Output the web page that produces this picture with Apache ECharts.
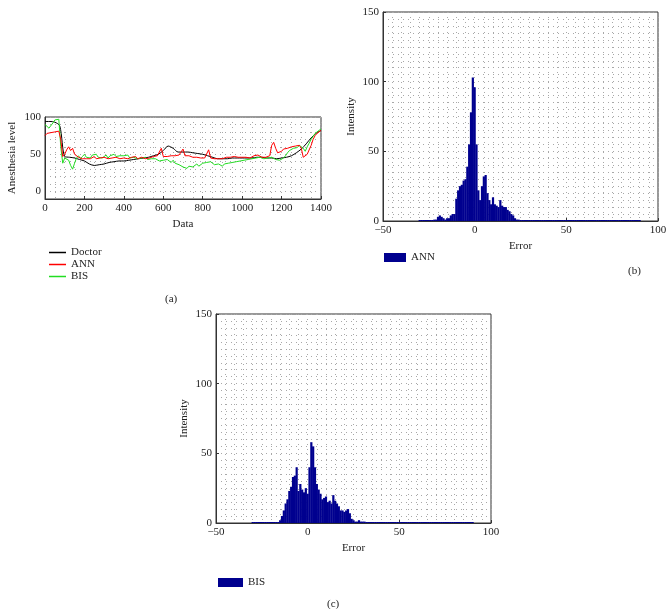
<!DOCTYPE html>
<html>
<head>
<meta charset="utf-8">
<script src="https://cdn.jsdelivr.net/npm/echarts@6/dist/echarts.min.js"></script>
<style>
  html, body { margin: 0; padding: 0; background: #fff; }
  #main { width: 671px; height: 609px; }
</style>
</head>
<body>
<div id="main"></div>
<script>
// (a) anesthesia level over the data samples
var levelStep = 10
var annLevel = [
  75, 78, 76, 79, 77, 80, 78, 81, 70, 47,
  50, 56, 60, 55, 58, 50, 48, 46, 45, 44,
  45, 44, 46, 44, 45, 47, 44, 46, 45, 44,
  46, 45, 44, 46, 45, 44, 46, 45, 44, 46,
  45, 46, 44, 45, 46, 45, 47, 44, 45, 46,
  45, 44, 46, 45, 46, 47, 46, 48, 47, 58,
  47, 48, 47, 49, 48, 49, 48, 47, 49, 48,
  57, 48, 47, 48, 47, 46, 47, 46, 47, 45,
  46, 45, 46, 56, 45, 46, 44, 45, 44, 45,
  44, 45, 46, 44, 46, 45, 47, 45, 46, 45,
  46, 45, 46, 47, 45, 46, 48, 47, 49, 47,
  46, 47, 46, 47, 48, 62, 66, 58, 52, 50,
  54, 57, 55, 58, 59, 60, 59, 61, 60, 62,
  58, 46, 44, 50, 48, 62, 70, 75, 78, 80,
  82
]
var bisLevel = [
  90, 88, 85, 84, 92, 96, 95, 97, 60, 38,
  45, 44, 42, 35, 30, 38, 45, 48, 44, 47,
  50, 46, 48, 45, 49, 47, 50, 46, 48, 45,
  47, 49, 45, 48, 46, 50, 47, 45, 48, 46,
  48, 46, 49, 45, 47, 46, 48, 44, 46, 45,
  44, 46, 43, 45, 44, 42, 44, 43, 41, 43,
  42, 40, 43, 41, 39, 42, 38, 40, 36, 34,
  33, 35, 31, 34, 36, 33, 35, 37, 34, 36,
  38, 36, 39, 37, 40, 38, 36, 38, 37, 35,
  34, 37, 35, 38, 36, 39, 38, 40, 39, 41,
  40, 42, 41, 43, 42, 44, 43, 45, 44, 46,
  45, 44, 46, 45, 44, 46, 45, 43, 44, 42,
  43, 45, 48, 52, 55, 57, 58, 60, 59, 62,
  63, 58, 54, 60, 65, 70, 74, 78, 80, 82,
  84
]
var doctorStep = 25
var doctorLevel = [
  94, 94, 93, 88, 47, 46, 45, 43, 41, 37,
  35, 36, 37, 39, 40, 41, 41, 42, 43, 44,
  45, 46, 48, 50, 55, 61, 58, 53, 53, 53,
  52, 51, 50, 48, 46, 44, 44, 44, 45, 45,
  45, 45, 45, 46, 46, 45, 45, 44, 45, 46,
  48, 52, 57, 64, 72, 78, 82
]

// (b)/(c) error histograms, bins of width 1
var histFrom = -30
var histTo = 90
var annBinStart = -22
var annCounts = [
  1, 1, 3, 4, 3, 2, 1, 2, 2, 4, 5, 5, 16, 22, 25, 26, 29, 30, 39, 55, 78, 103,
  96, 55, 22, 15, 25, 32, 33, 20, 15, 12, 17, 12, 11, 10, 15, 11, 10, 10, 8, 7, 5, 4, 2, 1, 1
]
var bisBinStart = -15
var bisCounts = [
  2, 5, 9, 14, 17, 23, 26, 33, 34, 40, 23, 28, 24, 22, 25,
  21, 40, 58, 55, 40, 28, 24, 21, 17, 18, 19, 15, 16, 14, 20, 16, 14, 12, 9, 9, 8, 9, 10, 7, 3, 2, 1, 1, 2, 1, 1, 1
]

var serif = 'Liberation Serif'
var dotStyle = { type: [1, 4], color: '#a8a8a8', width: 1 }

function toPairs(values, step) {
  return values.map(function (v, i) { return [i * step, v] })
}

// fill the whole bin range, zero outside the measured counts
function histPairs(start, counts) {
  var out = []
  for (var b = histFrom; b <= histTo; b++) {
    var k = b - start
    out.push([b, (k >= 0 && k < counts.length) ? counts[k] : 0])
  }
  return out
}

// plain numbers, real minus sign
function num(v) {
  return String(v).replace('-', '\u2212')
}

function histX(gridIndex) {
  return {
    gridIndex: gridIndex, type: 'value', min: -50, max: 100, interval: 50,
    name: 'Error', nameLocation: 'middle', nameGap: 20,
    nameTextStyle: { fontFamily: serif, fontSize: 11, color: '#222' },
    axisLine: { onZero: false, lineStyle: { color: '#333' } },
    axisTick: { inside: true, length: 3, lineStyle: { color: '#333' } },
    axisLabel: { fontFamily: serif, fontSize: 11, color: '#222', margin: 4, formatter: num },
    splitLine: { show: true, lineStyle: dotStyle },
    minorTick: { show: true, splitNumber: 10, length: 0 },
    minorSplitLine: { show: true, lineStyle: dotStyle }
  }
}

function histY(gridIndex) {
  return {
    gridIndex: gridIndex, type: 'value', min: 0, max: 150, interval: 50,
    name: 'Intensity', nameLocation: 'middle', nameGap: 26,
    nameTextStyle: { fontFamily: serif, fontSize: 11, color: '#222' },
    axisLine: { show: true, onZero: false, lineStyle: { color: '#333' } },
    axisTick: { show: true, inside: true, length: 3, lineStyle: { color: '#333' } },
    axisLabel: { fontFamily: serif, fontSize: 11, color: '#222', margin: 4, formatter: num },
    splitLine: { show: true, lineStyle: dotStyle },
    minorTick: { show: true, splitNumber: 10, length: 0 },
    minorSplitLine: { show: true, lineStyle: dotStyle }
  }
}

var chart = echarts.init(document.getElementById('main'), null, { renderer: 'canvas' })

var option = {
  animation: false,
  backgroundColor: '#fff',
  title: [
    { text: '(a)', left: 160, top: 289, textStyle: { fontFamily: serif, fontSize: 11, fontWeight: 'normal', color: '#222' } },
    { text: '(b)', left: 623, top: 261, textStyle: { fontFamily: serif, fontSize: 11, fontWeight: 'normal', color: '#222' } },
    { text: '(c)', left: 322, top: 594, textStyle: { fontFamily: serif, fontSize: 11, fontWeight: 'normal', color: '#222' } }
  ],
  legend: [
    {
      data: ['Doctor', 'ANN', 'BIS'], left: 44, top: 242, orient: 'vertical',
      icon: 'rect', itemWidth: 17, itemHeight: 1.5, itemGap: 1,
      textStyle: { fontFamily: serif, fontSize: 11, color: '#222' }
    },
    {
      data: ['ANN error'], left: 379, top: 247,
      icon: 'rect', itemWidth: 22, itemHeight: 9,
      formatter: function (name) { return name.split(' ')[0] },
      textStyle: { fontFamily: serif, fontSize: 11, color: '#222' }
    },
    {
      data: ['BIS error'], left: 213, top: 572,
      icon: 'rect', itemWidth: 25, itemHeight: 9,
      formatter: function (name) { return name.split(' ')[0] },
      textStyle: { fontFamily: serif, fontSize: 11, color: '#222' }
    }
  ],
  grid: [
    { left: 45, top: 117, width: 276, height: 82, show: true, borderColor: '#333', borderWidth: 1 },
    { left: 383, top: 12, width: 275, height: 209, show: true, borderColor: '#333', borderWidth: 1 },
    { left: 216, top: 314, width: 275, height: 209, show: true, borderColor: '#333', borderWidth: 1 }
  ],
  xAxis: [
    {
      gridIndex: 0, type: 'value', min: 0, max: 1400, interval: 200,
      name: 'Data', nameLocation: 'middle', nameGap: 20,
      nameTextStyle: { fontFamily: serif, fontSize: 11, color: '#222' },
      axisLine: { onZero: false, lineStyle: { color: '#333' } },
      axisTick: { inside: true, length: 3, lineStyle: { color: '#333' } },
      axisLabel: { fontFamily: serif, fontSize: 11, color: '#222', margin: 4, formatter: num },
      splitLine: { show: true, lineStyle: dotStyle },
      minorTick: { show: true, splitNumber: 4, length: 0 },
      minorSplitLine: { show: true, lineStyle: dotStyle }
    },
    histX(1),
    histX(2)
  ],
  yAxis: [
    {
      gridIndex: 0, type: 'value', min: -10, max: 100, interval: 10,
      name: 'Anesthesia level', nameLocation: 'middle', nameGap: 27,
      nameTextStyle: { fontFamily: serif, fontSize: 11, color: '#222' },
      axisLine: { show: true, onZero: false, lineStyle: { color: '#333' } },
      axisTick: { show: false },
      axisLabel: {
        fontFamily: serif, fontSize: 11, color: '#222', margin: 4,
        formatter: function (v) { return v % 50 === 0 ? num(v) : '' }
      },
      splitLine: { show: true, lineStyle: dotStyle }
    },
    histY(1),
    histY(2)
  ],
  series: [
    {
      name: 'Doctor', type: 'line', xAxisIndex: 0, yAxisIndex: 0,
      data: toPairs(doctorLevel, doctorStep), showSymbol: false, smooth: 0.3,
      lineStyle: { color: '#000', width: 1 }, itemStyle: { color: '#000' }
    },
    {
      name: 'BIS', type: 'line', xAxisIndex: 0, yAxisIndex: 0,
      data: toPairs(bisLevel, levelStep), showSymbol: false,
      lineStyle: { color: '#22dd22', width: 1 }, itemStyle: { color: '#22dd22' }
    },
    {
      name: 'ANN', type: 'line', xAxisIndex: 0, yAxisIndex: 0,
      data: toPairs(annLevel, levelStep), showSymbol: false,
      lineStyle: { color: '#ff0000', width: 1 }, itemStyle: { color: '#ff0000' }
    },
    {
      name: 'ANN error', type: 'bar', xAxisIndex: 1, yAxisIndex: 1,
      data: histPairs(annBinStart, annCounts), barWidth: 2.2, barMinHeight: 1,
      itemStyle: { color: '#00008f' }
    },
    {
      name: 'BIS error', type: 'bar', xAxisIndex: 2, yAxisIndex: 2,
      data: histPairs(bisBinStart, bisCounts), barWidth: 2.2, barMinHeight: 1,
      itemStyle: { color: '#00008f' }
    }
  ]
}

chart.setOption(option)
</script>
</body>
</html>
